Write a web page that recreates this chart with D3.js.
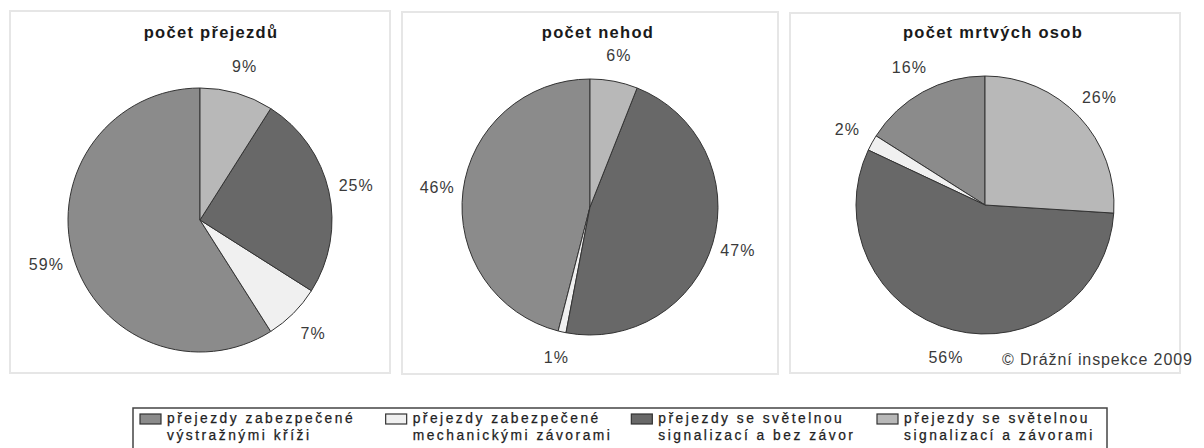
<!DOCTYPE html>
<html>
<head>
<meta charset="utf-8">
<script src="https://cdn.jsdelivr.net/npm/d3@7"></script>
<style>
  html, body { margin: 0; padding: 0; background: #fff; }
  svg { display: block; }
  text { font-family: "Liberation Sans", Arial, sans-serif; }
</style>
</head>
<body>
<svg id="chart" width="1204" height="448"></svg>
<script>
// Kategorie přejezdů (pořadí legendy)
const categories = [
  ["přejezdy zabezpečené", "výstražnými kříži"],
  ["přejezdy zabezpečené", "mechanickými závorami"],
  ["přejezdy se světelnou", "signalizací a bez závor"],
  ["přejezdy se světelnou", "signalizací a závorami"]
];
const categoryColors = ["#8b8b8b", "#f0f0f0", "#686868", "#b8b8b8"];

// Podíly v % podle kategorií
const titles = ["počet přejezdů", "počet nehod", "počet mrtvých osob"];
const crossingsValues = [59, 7, 25, 9];
const accidentsValues = [46, 1, 47, 6];
const fatalitiesValues = [16, 2, 56, 26];
const seriesValues = [crossingsValues, accidentsValues, fatalitiesValues];
const sourceNote = "© Drážní inspekce 2009";

const svg = d3.select("#chart");

// Rozložení tří panelů
const panels = [
  { x: 10,  y: 11, w: 380, h: 362, cx: 200, cy: 220, r: 132, tx: 211, lr: 28 },
  { x: 402, y: 12, w: 376, h: 362, cx: 590, cy: 207, r: 128, tx: 598, lr: 26 },
  { x: 790, y: 13, w: 390, h: 360, cx: 985, cy: 205, r: 129, tx: 993, lr: 28 }
];

// Výseče jdou od 12 hodin proti směru hodin v pořadí legendy
const pie = d3.pie().sort(null).startAngle(2 * Math.PI).endAngle(0);
const color = d3.scaleOrdinal().domain(d3.range(categories.length)).range(categoryColors);

panels.forEach((p, i) => {
  const g = svg.append("g");
  g.append("rect")
    .attr("x", p.x).attr("y", p.y).attr("width", p.w).attr("height", p.h)
    .attr("fill", "#fff").attr("stroke", "#e6e6e6").attr("stroke-width", 2);

  g.append("text")
    .attr("x", p.tx).attr("y", 38)
    .attr("text-anchor", "middle")
    .attr("font-size", 16.5).attr("font-weight", "bold")
    .attr("letter-spacing", 1.3)
    .attr("fill", "#1a1a1a")
    .text(titles[i]);

  const arcs = pie(seriesValues[i]);
  const arc = d3.arc().innerRadius(0).outerRadius(p.r);
  const labelArc = d3.arc().innerRadius(p.r + p.lr).outerRadius(p.r + p.lr);

  const pg = g.append("g").attr("transform", `translate(${p.cx},${p.cy})`);
  pg.selectAll("path").data(arcs).join("path")
    .attr("d", arc)
    .attr("fill", (d, k) => color(k))
    .attr("stroke", "#333")
    .attr("stroke-width", 1)
    .attr("stroke-linejoin", "round");

  pg.selectAll("text").data(arcs).join("text")
    .attr("transform", d => `translate(${labelArc.centroid(d)})`)
    .attr("text-anchor", "middle")
    .attr("dy", "0.36em")
    .attr("font-size", 16)
    .attr("letter-spacing", 1)
    .attr("fill", "#3a3a3a")
    .text(d => d.data + "%");
});

svg.append("text")
  .attr("x", 1002).attr("y", 365)
  .attr("font-size", 16).attr("letter-spacing", 0.9)
  .attr("fill", "#3a3a3a")
  .text(sourceNote);

// Legenda
const legend = svg.append("g");
legend.append("rect")
  .attr("x", 133).attr("y", 408).attr("width", 974).attr("height", 60)
  .attr("fill", "#fff").attr("stroke", "#444").attr("stroke-width", 1.5);

const legendX = d3.scalePoint().domain(d3.range(categories.length)).range([140, 877]);
const item = legend.selectAll("g.item").data(categories).join("g")
  .attr("class", "item")
  .attr("transform", (d, k) => `translate(${legendX(k)},414)`);
item.append("rect")
  .attr("width", 21).attr("height", 10)
  .attr("fill", (d, k) => color(k))
  .attr("stroke", "#333").attr("stroke-width", 1.2);
item.append("text")
  .attr("x", 27).attr("y", 9)
  .attr("font-size", 13.8).attr("letter-spacing", 2.5)
  .attr("fill", "#222")
  .attr("stroke", "#222").attr("stroke-width", 0.25)
  .selectAll("tspan").data(d => d).join("tspan")
  .attr("x", 27).attr("dy", (d, k) => k === 0 ? 0 : 17)
  .text(d => d);
</script>
</body>
</html>
